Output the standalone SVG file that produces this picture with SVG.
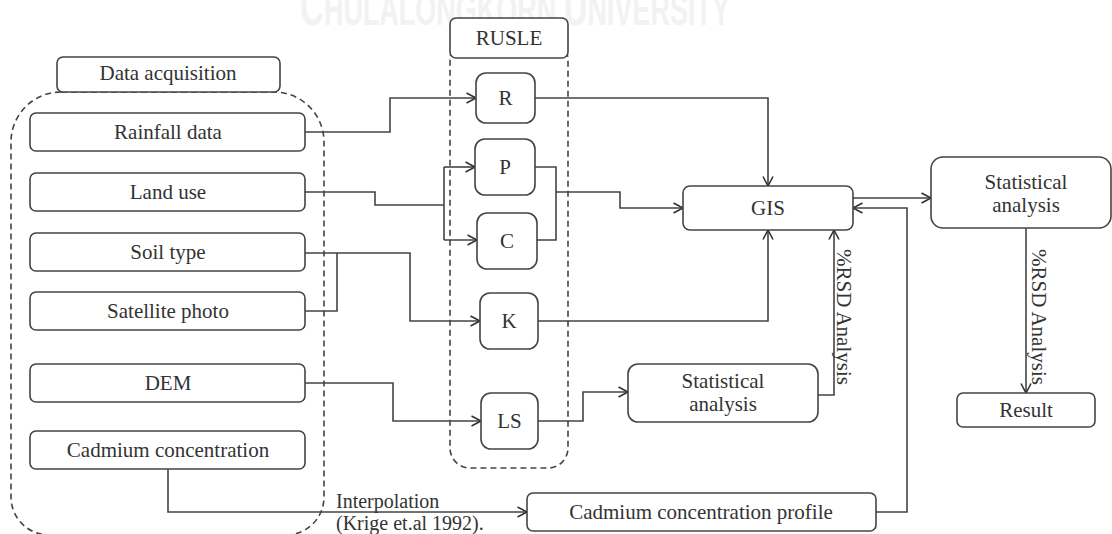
<svg xmlns="http://www.w3.org/2000/svg" width="1112" height="534" viewBox="0 0 1112 534" font-family="'Liberation Serif', 'Times New Roman', serif">
  <defs>
    <marker id="arrow" markerUnits="userSpaceOnUse" markerWidth="13" markerHeight="13" refX="11" refY="6.5" orient="auto">
      <path d="M1.5,1.5 L11,6.5 L1.5,11.5" fill="none" stroke="#333" stroke-width="1.6"/>
    </marker>
    <style>
      .box { fill: #fff; stroke: #444; stroke-width: 1.6; }
      .group { fill: none; stroke: #444; stroke-width: 1.6; stroke-dasharray: 6 4; }
      .lbl { font-size: 21px; fill: #333; text-anchor: middle; }
      .note { font-size: 21px; fill: #333; }
      .note.small { font-size: 20px; }
      .wire { fill: none; stroke: #444; stroke-width: 1.6; }
      .wire.to { marker-end: url(#arrow); }
      .mark { font-family: "Liberation Sans", Arial, sans-serif; font-weight: bold; fill: #f2f2f2; }
    </style>
  </defs>

  <rect width="1112" height="534" fill="#fff"/>

  <!-- faint banner lettering across the top -->
  <text class="mark" x="300" y="25" font-size="44" textLength="430" lengthAdjust="spacingAndGlyphs"><tspan font-size="54">C</tspan>HULALONGKORN <tspan font-size="54">U</tspan>NIVERSITY</text>

  <!-- dashed grouping outlines -->
  <g id="data-acquisition-group">
    <path class="group" d="M61,92 H274 A50,50 0 0 1 324,142 V497 A38,38 0 0 1 286,535 H49 A38,38 0 0 1 11,497 V142 A50,50 0 0 1 61,92 Z"/>
  </g>
  <g id="rusle-group">
    <rect class="group" x="450" y="40" width="118" height="428" rx="20"/>
  </g>

  <!-- connectors -->
  <g id="connectors">
    <path class="wire to" d="M305,132 H390 V98 H476"/>
    <path class="wire" d="M305,192 H375 V205 H444"/>
    <path class="wire" d="M444,167 V240"/>
    <path class="wire to" d="M444,167 H475"/>
    <path class="wire to" d="M444,240 H477"/>
    <path class="wire" d="M535,167 H556 V240 H537"/>
    <path class="wire to" d="M556,192 H620 V208 H683"/>
    <path class="wire to" d="M305,253 H410 V321 H480"/>
    <path class="wire" d="M305,311 H337 V253"/>
    <path class="wire to" d="M305,383 H393 V421 H481"/>
    <path class="wire to" d="M535,98 H768 V186"/>
    <path class="wire to" d="M538,321 H768 V230"/>
    <path class="wire to" d="M538,421 H583 V392 H628"/>
    <path class="wire to" d="M818,395 H834 V230"/>
    <path class="wire to" d="M853,198 H931"/>
    <path class="wire to" d="M876,512 H907 V208 H853"/>
    <path class="wire to" d="M1026,228 V393"/>
    <path class="wire to" d="M168,469 V512 H527"/>
    <text class="note small" x="336" y="508">Interpolation</text>
    <text class="note small" x="336" y="530">(Krige et.al 1992).</text>
    <text class="note" transform="translate(837,249) rotate(90)">%RSD Analysis</text>
    <text class="note" transform="translate(1032,249) rotate(90)">%RSD Analysis</text>
  </g>

  <!-- headers -->
  <g id="data-acquisition">
    <rect class="box" x="57" y="57" width="223" height="35" rx="6"/>
    <text class="lbl" x="168" y="80">Data acquisition</text>
  </g>
  <g id="rusle">
    <rect class="box" x="450" y="18" width="118" height="40" rx="6"/>
    <text class="lbl" x="509" y="45">RUSLE</text>
  </g>

  <!-- input data -->
  <g id="rainfall-data">
    <rect class="box" x="30" y="113" width="275" height="38" rx="6"/>
    <text class="lbl" x="168" y="139">Rainfall  data</text>
  </g>
  <g id="land-use">
    <rect class="box" x="30" y="173" width="275" height="38" rx="6"/>
    <text class="lbl" x="168" y="199">Land use</text>
  </g>
  <g id="soil-type">
    <rect class="box" x="30" y="233" width="275" height="38" rx="6"/>
    <text class="lbl" x="168" y="259">Soil type</text>
  </g>
  <g id="satellite-photo">
    <rect class="box" x="30" y="292" width="275" height="38" rx="6"/>
    <text class="lbl" x="168" y="318">Satellite  photo</text>
  </g>
  <g id="dem">
    <rect class="box" x="30" y="364" width="275" height="38" rx="6"/>
    <text class="lbl" x="168" y="390">DEM</text>
  </g>
  <g id="cadmium-concentration">
    <rect class="box" x="30" y="431" width="275" height="38" rx="6"/>
    <text class="lbl" x="168" y="457">Cadmium concentration</text>
  </g>

  <!-- RUSLE factors -->
  <g id="factor-r">
    <rect class="box" x="476" y="73" width="59" height="50" rx="10"/>
    <text class="lbl" x="505.5" y="105">R</text>
  </g>
  <g id="factor-p">
    <rect class="box" x="475" y="139" width="60" height="56" rx="10"/>
    <text class="lbl" x="505" y="174">P</text>
  </g>
  <g id="factor-c">
    <rect class="box" x="477" y="213" width="60" height="56" rx="10"/>
    <text class="lbl" x="507" y="248">C</text>
  </g>
  <g id="factor-k">
    <rect class="box" x="480" y="293" width="58" height="56" rx="10"/>
    <text class="lbl" x="509" y="328">K</text>
  </g>
  <g id="factor-ls">
    <rect class="box" x="481" y="393" width="57" height="56" rx="10"/>
    <text class="lbl" x="509.5" y="428">LS</text>
  </g>

  <!-- processing and outputs -->
  <g id="gis">
    <rect class="box" x="683" y="186" width="170" height="44" rx="7"/>
    <text class="lbl" x="768" y="215">GIS</text>
  </g>
  <g id="statistical-analysis-lower">
    <rect class="box" x="628" y="364" width="190" height="58" rx="10"/>
    <text class="lbl" x="723" y="388">Statistical</text>
    <text class="lbl" x="723" y="411">analysis</text>
  </g>
  <g id="statistical-analysis-upper">
    <rect class="box" x="931" y="157" width="180" height="71" rx="12"/>
    <text class="lbl" x="1026" y="189">Statistical</text>
    <text class="lbl" x="1026" y="212">analysis</text>
  </g>
  <g id="result">
    <rect class="box" x="957" y="393" width="138" height="34" rx="6"/>
    <text class="lbl" x="1026" y="417">Result</text>
  </g>
  <g id="cadmium-profile">
    <rect class="box" x="527" y="493" width="349" height="38" rx="6"/>
    <text class="lbl" x="701" y="519">Cadmium concentration profile</text>
  </g>
</svg>
